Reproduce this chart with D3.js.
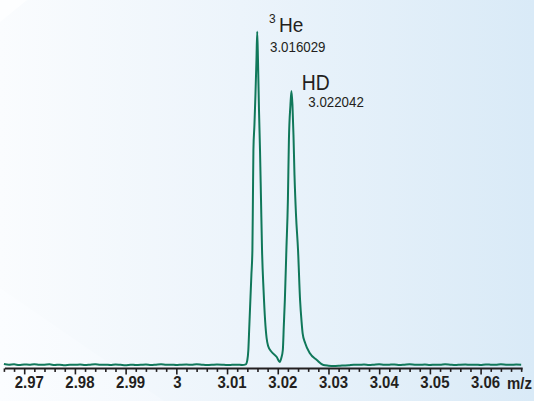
<!DOCTYPE html>
<html>
<head>
<meta charset="utf-8">
<script src="https://cdn.jsdelivr.net/npm/d3@7/dist/d3.min.js"></script>
<style>
html,body{margin:0;padding:0;background:#fff;}
svg{display:block;}
</style>
</head>
<body>
<svg id="chart" width="534" height="401"></svg>
<script>
// ---------- DATA ----------
const mzValues = [
  2.966,2.967,2.968,2.969,2.970,2.971,2.972,2.973,2.974,2.975,2.976,2.977,2.978,2.979,2.980,2.981,
  2.982,2.983,2.984,2.985,2.986,2.987,2.988,2.989,2.990,2.991,2.992,2.993,2.994,2.995,2.996,2.997,
  2.998,2.999,3.000,3.001,3.002,3.003,3.004,3.005,3.006,3.007,3.008,3.009,3.010,3.011,3.012,3.013,
  3.0137,3.0140,3.0142,3.0144,3.0146,3.0148,3.0150,3.0151,3.0152,3.0154,3.0156,3.0158,3.01595,
  3.0161,3.0163,3.0165,3.0167,3.0169,3.0172,3.0175,3.0178,3.0181,3.0188,3.0198,3.0204,3.0207,
  3.0210,3.0212,3.0214,3.0217,3.0220,3.0222,3.0225,3.0227,3.0229,3.0231,3.0233,3.0236,3.0240,
  3.0244,3.0247,3.0249,3.0254,3.0263,3.0277,3.0290,
  3.030,3.031,3.032,3.033,3.034,3.035,3.036,3.037,3.038,3.039,3.040,3.041,3.042,3.043,3.044,3.045,
  3.046,3.047,3.048,3.049,3.050,3.051,3.052,3.053,3.054,3.055,3.056,3.057,3.058,3.059,3.060,3.061,
  3.062,3.063,3.064,3.065,3.066,3.067,3.068
];
const intensityValues = [
  0.3,0.1,0.2,0.0,0.15,0.1,0.25,0.05,0.1,0.2,0.0,0.1,-0.05,0.1,0.05,0.15,
  0.0,0.1,0.2,0.05,0.1,0.0,0.15,0.05,-0.05,0.1,0.0,0.05,0.15,0.0,0.1,0.2,
  0.05,0.1,0.0,0.1,0.15,0.05,0.2,0.1,0.0,0.05,0.15,0.1,0.0,0.05,0.1,0.0,
  0.2,1.5,4.5,12,19.5,27,34.5,49.5,64.5,72,81,91.5,100,
  91.5,76.5,64.5,49.5,34.5,22.5,13.5,8.1,5.7,3.9,2.4,0.9,2.1,
  4.5,12,19.5,34.5,49.5,67.5,78,82.2,78,69,57,45,34.5,
  19.5,12.9,9.6,6.6,3.6,1.5,0.0,
  -0.2,-0.3,-0.25,-0.15,-0.05,0.1,0.05,0.15,0.0,0.1,0.2,0.05,0.1,0.15,0.0,0.1,
  0.2,0.1,0.05,0.15,0.0,0.1,0.05,0.2,0.1,0.0,0.1,0.15,0.05,0.1,0.0,0.15,
  0.1,0.05,0.2,0.1,0.05,0.15,0.1
];
const majorTicks = [2.97,2.98,2.99,3.00,3.01,3.02,3.03,3.04,3.05,3.06];
const tickLabels = ["2.97","2.98","2.99","3","3.01","3.02","3.03","3.04","3.05","3.06"];
const minorTicks = [2.962,2.964,2.966,2.968,2.972,2.974,2.976,2.978,2.982,2.984,2.986,2.988,
  2.992,2.994,2.996,2.998,3.002,3.004,3.006,3.008,3.012,3.014,3.016,3.018,3.022,3.024,3.026,3.028,
  3.032,3.034,3.036,3.038,3.042,3.044,3.046,3.048,3.052,3.054,3.056,3.058,3.062,3.064,3.066,3.068];
const axisDomain = [2.9662, 3.0683];
const axisTitle = "m/z";
const peakNames = ["He","HD"];
const peakSup = ["3",""];
const peakMasses = ["3.016029","3.022042"];

// ---------- CHART ----------
const svg = d3.select("#chart");
const defs = svg.append("defs");
const bg = defs.append("linearGradient").attr("id","bg").attr("x1","0").attr("y1","0").attr("x2","1").attr("y2","0");
bg.append("stop").attr("offset","0%").attr("stop-color","#fafcfe");
bg.append("stop").attr("offset","45%").attr("stop-color","#ecf4fb");
bg.append("stop").attr("offset","100%").attr("stop-color","#d9eaf7");
const tri = defs.append("linearGradient").attr("id","tri").attr("x1","0").attr("y1","0").attr("x2","1").attr("y2","0");
tri.append("stop").attr("offset","0%").attr("stop-color","#fbfdff");
tri.append("stop").attr("offset","100%").attr("stop-color","#f3f8fd");

svg.append("rect").attr("width",534).attr("height",401).attr("fill","url(#bg)");
svg.append("path").attr("d","M0,288 L164,401 L0,401 Z").attr("fill","url(#tri)");
svg.append("path").attr("d","M0,0 L27,0 L0,22 Z").attr("fill","#fdfeff");

const x = d3.scaleLinear().domain([2.97,3.06]).range([24.2,480.6]);
const y = d3.scaleLinear().domain([0,100]).range([365,31.7]);

const pts = mzValues.map((m,i)=>[m,intensityValues[i]]);
const line = d3.line().x(d=>x(d[0])).y(d=>y(d[1])).curve(d3.curveMonotoneX);
svg.append("path").datum(pts).attr("d",line)
  .attr("fill","none").attr("stroke","#10785a").attr("stroke-width",2)
  .attr("stroke-linejoin","round");

// axis
const axisY = 368.4;
const axisG = svg.append("g").attr("transform",`translate(0,${axisY})`);
const major = d3.axisBottom(x).tickValues(majorTicks).tickSize(6).tickFormat("");
const minor = d3.axisBottom(x).tickValues(minorTicks).tickSize(3.5).tickFormat("");
axisG.append("g").call(major).call(g=>g.select(".domain").remove())
  .selectAll("line").attr("stroke","#231f20").attr("stroke-width",1.6);
axisG.append("g").call(minor).call(g=>g.select(".domain").remove())
  .selectAll("line").attr("stroke","#231f20").attr("stroke-width",1.6);
axisG.append("line").attr("x1",x(axisDomain[0])).attr("x2",x(axisDomain[1]))
  .attr("y1",0).attr("y2",0).attr("stroke","#231f20").attr("stroke-width",2);

const labelG = svg.append("g").attr("font-family","'Liberation Sans', Arial, sans-serif")
  .attr("font-weight","bold").attr("font-size",17).attr("fill","#231f20");
majorTicks.forEach((v,i)=>{
  const dx = tickLabels[i].length > 1 ? 5 : 1;
  labelG.append("text").attr("text-anchor","middle")
    .attr("transform",`translate(${x(v)+dx},388.2) scale(0.88,1)`)
    .text(tickLabels[i]);
});
labelG.append("text").attr("text-anchor","start")
  .attr("transform",`translate(507,389) scale(0.88,1)`).text(axisTitle);

// peak annotations
const ann = svg.append("g").attr("font-family","'Liberation Sans', Arial, sans-serif").attr("fill","#231f20");
// 3He
ann.append("text").attr("font-size",12).attr("transform","translate(269,22.7)").text(peakSup[0]);
ann.append("text").attr("font-size",20.5).attr("transform","translate(279,31.7) scale(0.93,1)").text(peakNames[0]);
ann.append("text").attr("font-size",15.5).attr("transform","translate(270,51.7) scale(0.86,1)").text(peakMasses[0]);
// HD
ann.append("text").attr("font-size",21.5).attr("transform","translate(301.7,90) scale(0.9,1)").text(peakNames[1]);
ann.append("text").attr("font-size",15.5).attr("transform","translate(308.3,107.3) scale(0.86,1)").text(peakMasses[1]);
</script>
</body>
</html>
